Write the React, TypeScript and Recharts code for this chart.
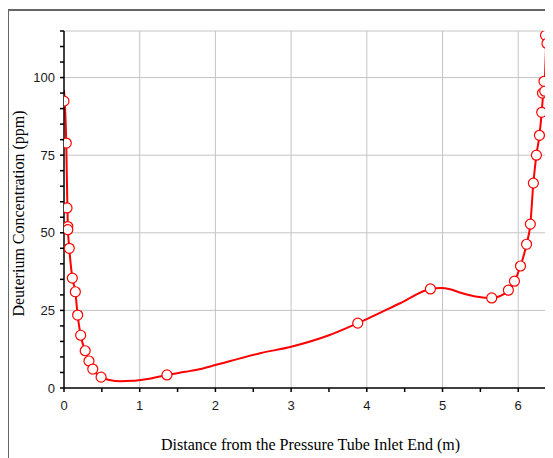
import {
  ComposedChart,
  Line,
  Scatter,
  XAxis,
  YAxis,
  ReferenceLine,
  Label,
} from "recharts";

// measured points (markers)
const pointX = [
  0, 0.03, 0.04, 0.05, 0.05, 0.07, 0.11, 0.15, 0.18, 0.22, 0.28, 0.33, 0.38,
  0.49, 1.36, 3.88, 4.84, 5.65, 5.87, 5.95, 6.03, 6.11, 6.16, 6.2, 6.24, 6.28,
  6.31, 6.32, 6.35, 6.34, 6.36, 6.38,
];
const pointY = [
  92.4, 78.9, 58, 52, 51, 45, 35.4, 31, 23.5, 17, 12, 8.7, 6.1, 3.5, 4.2, 20.9,
  31.9, 29, 31.5, 34.4, 39.3, 46.3, 52.8, 66, 75, 81.4, 88.8, 95, 95.6, 98.8,
  113.6, 111,
];

// fitted curve drawn through the points
const curveX = [
  0, 0.03, 0.05, 0.07, 0.11, 0.15, 0.18, 0.22, 0.28, 0.33, 0.38, 0.49, 0.6,
  0.75, 0.9, 1.1, 1.36, 1.6, 1.8, 2.0, 2.59, 3.0, 3.5, 3.88, 4.0, 4.44, 4.84,
  4.98, 5.1, 5.24, 5.46, 5.65, 5.87, 5.95, 6.03, 6.11, 6.16, 6.2, 6.24, 6.28,
  6.31, 6.33, 6.35, 6.37,
];
const curveY = [
  96, 79, 52, 45, 35.5, 31, 23.5, 17, 12, 8.7, 6.1, 3.5, 2.6, 2.2, 2.3, 2.9,
  4.2, 5.2, 6.1, 7.4, 11.2, 13.3, 17.0, 20.9, 22.2, 27.3, 31.9, 32.2, 31.8,
  30.7, 29.4, 29, 31.3, 34.4, 39.3, 46.3, 52.8, 66, 75, 81.4, 88.8, 95, 99, 112,
];

const xTicks = [0, 0.5, 1, 1.5, 2, 2.5, 3, 3.5, 4, 4.5, 5, 5.5, 6];
const yTicks = [
  0, 5, 10, 15, 20, 25, 30, 35, 40, 45, 50, 55, 60, 65, 70, 75, 80, 85, 90, 95,
  100, 105, 110, 115,
];
const xGrid = [1, 2, 3, 4, 5, 6, 6.38];
const yGrid = [25, 50, 75, 100, 115];

const points = pointX.map((x, i) => ({ x, y: pointY[i] }));
const curve = curveX.map((x, i) => ({ x, y: curveY[i] }));

const tickStyle = { fontFamily: "Liberation Sans", fontSize: 13, fill: "#1a1a1a" };
const titleStyle = { fontFamily: "Liberation Serif", fontSize: 16, fill: "#000" };

const Marker = (props: any) => (
  <circle cx={props.cx} cy={props.cy} r={5} fill="#fff" stroke="#ff0000" strokeWidth={1.2} />
);

export default function App() {
  return (
    <div style={{ position: "relative", width: 545, height: 450 }}>
      <div
        style={{
          position: "absolute",
          left: -1,
          top: 1,
          width: 546,
          height: 449,
          borderLeft: "2px solid #666",
          borderTop: "2px solid #666",
          boxSizing: "border-box",
        }}
      />
      <div style={{ position: "absolute", left: 0, top: 0 }}>
        <ComposedChart
          width={545}
          height={450}
          margin={{ top: 23, right: 6, left: 0, bottom: 0 }}
        >
          <XAxis
            type="number"
            dataKey="x"
            domain={[0, 6.38]}
            ticks={xTicks}
            tickFormatter={(v) => (Number.isInteger(v) ? String(v) : "")}
            tick={tickStyle}
            tickSize={4}
            tickMargin={9}
            height={70}
            stroke="#000"
            strokeWidth={1.5}
            allowDataOverflow
          >
            <Label
              value="Distance from the Pressure Tube Inlet End (m)"
              position="insideBottom"
              offset={8}
              dx={5}
              style={titleStyle}
            />
          </XAxis>
          <YAxis
            type="number"
            dataKey="y"
            domain={[0, 115]}
            ticks={yTicks}
            tickFormatter={(v) => (v % 25 === 0 ? String(v) : "")}
            tick={tickStyle}
            tickSize={4}
            tickMargin={5}
            width={56}
            stroke="#000"
            strokeWidth={1.5}
            allowDataOverflow
          >
            <Label
              value="Deuterium Concentration (ppm)"
              angle={-90}
              position="insideLeft"
              offset={10}
              dy={4}
              style={{ ...titleStyle, textAnchor: "middle" }}
            />
          </YAxis>
          {xGrid.map((v) => (
            <ReferenceLine key={"x" + v} x={v} stroke="#c4c4c4" strokeWidth={1} />
          ))}
          {yGrid.map((v) => (
            <ReferenceLine key={"y" + v} y={v} stroke="#c4c4c4" strokeWidth={1} />
          ))}
          <Line
            data={curve}
            dataKey="y"
            type="monotone"
            stroke="#ff0000"
            strokeWidth={2}
            dot={false}
            activeDot={false}
            isAnimationActive={false}
          />
          <Scatter
            data={points}
            dataKey="y"
            shape={Marker}
            isAnimationActive={false}
          />
        </ComposedChart>
      </div>
    </div>
  );
}
